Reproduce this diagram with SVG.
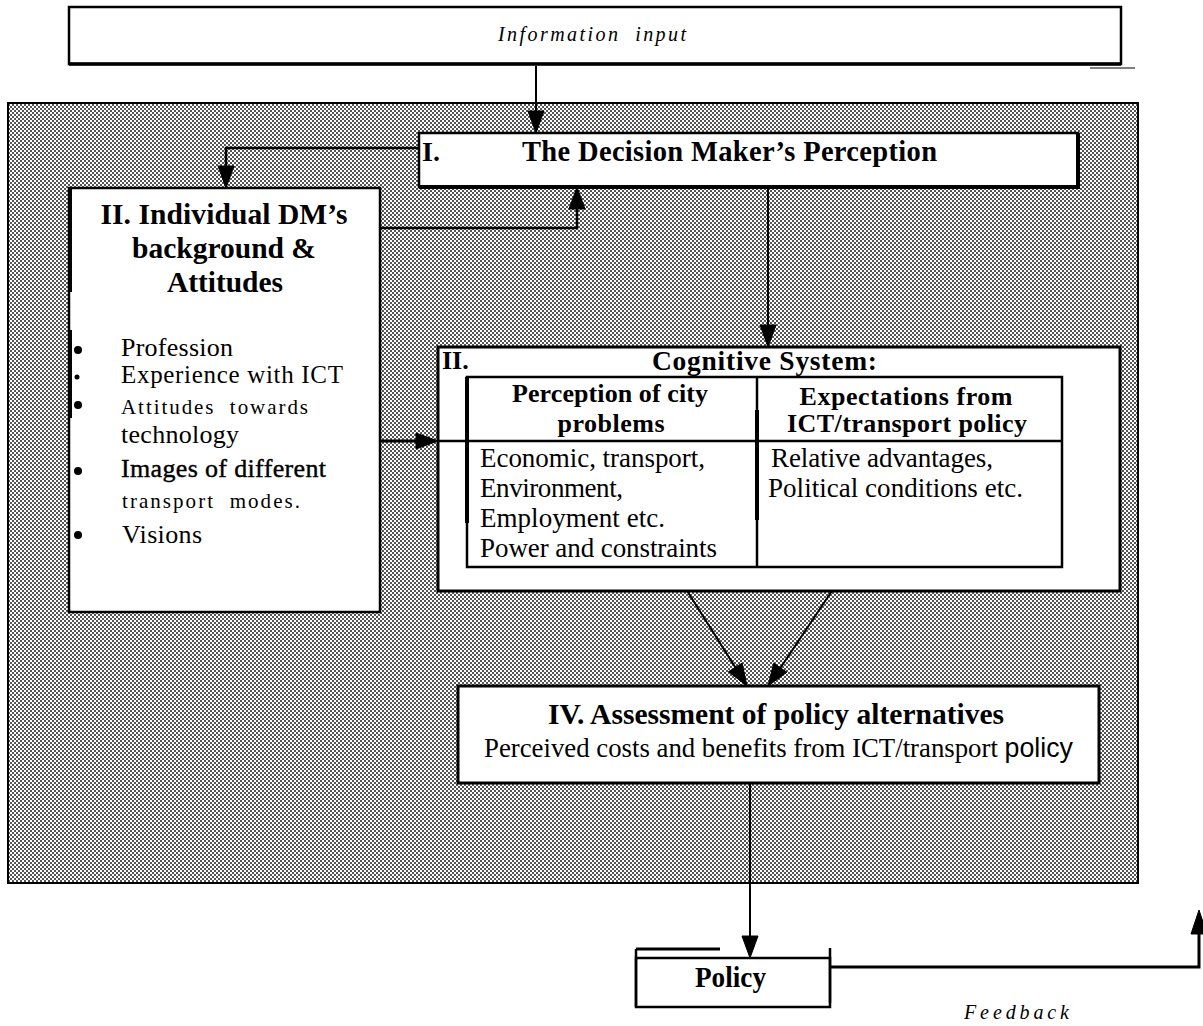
<svg xmlns="http://www.w3.org/2000/svg" width="1203" height="1026" viewBox="0 0 1203 1026">
<style>
  text { font-family: "Liberation Serif", "Times New Roman", serif; fill: #000; }
  .b { font-weight: bold; }
  .it { font-style: italic; }
  .box { fill: #fff; stroke: #000; }
  .con { fill: none; stroke: #000; }
  .head { fill: #000; stroke: #000; stroke-width: 1; stroke-linejoin: miter; }
</style>
<defs>
  <pattern id="dots" width="4" height="4" patternUnits="userSpaceOnUse">
    <rect width="4" height="4" fill="#fff"/>
    <rect x="0" y="0" width="2" height="2" fill="#555"/>
    <rect x="2" y="2" width="2" height="2" fill="#555"/>
  </pattern>
</defs>

<rect width="1203" height="1026" fill="#fff"/>

<!-- shaded background -->
<g id="shade">
  <rect x="8" y="103" width="1130" height="780" fill="url(#dots)" stroke="#000" stroke-width="2"/>
</g>

<!-- Information input -->
<g id="info">
  <rect x="69" y="7" width="1052" height="57" fill="#fff" stroke="#000" stroke-width="2.5"/>
  <line x1="69" y1="64" x2="1121" y2="64" stroke="#000" stroke-width="3.5"/>
  <line x1="1090" y1="68" x2="1135" y2="68" stroke="#000" stroke-width="1"/>
  <text x="592" y="41" text-anchor="middle" class="it" font-size="20" textLength="188" xml:space="preserve">Information  input</text>
</g>

<!-- connectors -->
<g id="connectors">
  <line x1="536" y1="66" x2="536" y2="115" class="con" style="stroke-width:2"/>
  <polygon class="head" points="528,111 544,111 536,133"/>
  <polyline points="419,148 226,148 226,170" class="con" style="stroke-width:2.5"/>
  <polygon class="head" points="218,166 234,166 226,188"/>
  <polyline points="380,228 577,228 577,205" class="con" style="stroke-width:2.5"/>
  <polygon class="head" points="569,209 585,209 577,187"/>
  <line x1="768" y1="187" x2="768" y2="329" class="con" style="stroke-width:2"/>
  <polygon class="head" points="760,325 776,325 768,347"/>
  <line x1="380" y1="441" x2="420" y2="441" class="con" style="stroke-width:3"/>
  <polygon class="head" points="416,433 416,449 438,441"/>
  <line x1="672" y1="567" x2="737" y2="670" class="con" style="stroke-width:2"/>
  <polygon class="head" points="728.5,671.7 742.1,663.1 747,686"/>
  <line x1="848" y1="567" x2="779" y2="670" class="con" style="stroke-width:2"/>
  <polygon class="head" points="773.7,663.2 786.9,672.2 768,686"/>
  <line x1="750" y1="783" x2="750" y2="940" class="con" style="stroke-width:2"/>
  <polygon class="head" points="742,936 758,936 750,958"/>
  <polyline points="830,967 1199,967 1199,930" class="con" style="stroke-width:3"/>
  <polygon class="head" points="1191,934 1207,934 1199,910"/>
</g>

<!-- Box I -->
<g id="node-perception">
  <rect x="419" y="133" width="659" height="54" class="box" stroke-width="2.5"/>
  <path d="M419,187 H1078 V133" fill="none" stroke="#000" stroke-width="4"/>
  <text x="422" y="161" class="b" font-size="28">I.</text>
  <text x="522" y="161" class="b" font-size="28.5" textLength="415">The Decision Maker’s Perception</text>
</g>

<!-- Box II -->
<g id="node-background">
  <rect x="69" y="188" width="311" height="424" class="box" stroke-width="2.5"/>
  <line x1="70" y1="188" x2="70" y2="292" stroke="#000" stroke-width="4"/>
  <line x1="70" y1="330" x2="70" y2="418" stroke="#000" stroke-width="4"/>
  <text x="224" y="224" text-anchor="middle" class="b" font-size="29.5" textLength="247">II. Individual DM’s</text>
  <text x="224" y="258" text-anchor="middle" class="b" font-size="29.5">background &amp;</text>
  <text x="225" y="292" text-anchor="middle" class="b" font-size="29.5" textLength="116">Attitudes</text>
  <circle cx="78" cy="350" r="4"/>
  <circle cx="77" cy="377" r="2.5"/>
  <circle cx="78" cy="405" r="4"/>
  <circle cx="78" cy="471" r="4"/>
  <circle cx="78" cy="535" r="4"/>
  <text x="121" y="356" font-size="26" textLength="112">Profession</text>
  <text x="121" y="383" font-size="25" textLength="222">Experience with ICT</text>
  <text x="121" y="414" font-size="21" textLength="187" xml:space="preserve">Attitudes  towards</text>
  <text x="121" y="443" font-size="26" textLength="118">technology</text>
  <text x="121" y="477" font-size="26" textLength="205" stroke="#000" stroke-width="0.4">Images of different</text>
  <text x="122" y="508" font-size="21" textLength="178" xml:space="preserve">transport  modes.</text>
  <text x="122" y="543" font-size="26" textLength="80">Visions</text>
</g>

<!-- Cognitive System -->
<g id="node-cognitive">
  <rect x="438" y="347" width="682" height="244" class="box" stroke-width="3"/>
  <text x="442" y="369" class="b" font-size="26">II.</text>
  <text x="652" y="370" class="b" font-size="27.5" textLength="225">Cognitive System:</text>
  <rect x="467" y="377" width="595" height="190" fill="none" stroke="#000" stroke-width="2.5"/>
  <line x1="467" y1="377" x2="467" y2="523" stroke="#000" stroke-width="4"/>
  <line x1="757" y1="377" x2="757" y2="567" stroke="#000" stroke-width="2.5"/>
  <line x1="757" y1="410" x2="757" y2="520" stroke="#000" stroke-width="4"/>
  <line x1="438" y1="441" x2="1063" y2="441" stroke="#000" stroke-width="2.5"/>
  <text x="610" y="402" text-anchor="middle" class="b" font-size="26" textLength="196">Perception of city</text>
  <text x="611" y="432" text-anchor="middle" class="b" font-size="26" textLength="107">problems</text>
  <text x="906" y="405" text-anchor="middle" class="b" font-size="26" textLength="213">Expectations from</text>
  <text x="907" y="432" text-anchor="middle" class="b" font-size="26" textLength="240">ICT/transport policy</text>
  <text x="480" y="467" font-size="27" textLength="225">Economic, transport,</text>
  <text x="480" y="497" font-size="27" textLength="143">Environment,</text>
  <text x="480" y="527" font-size="27" textLength="185">Employment etc.</text>
  <text x="480" y="557" font-size="27" textLength="237">Power and constraints</text>
  <text x="771" y="467" font-size="27" textLength="222">Relative advantages,</text>
  <text x="768" y="497" font-size="27" textLength="255">Political conditions etc.</text>
</g>

<!-- Box IV -->
<g id="node-assessment">
  <rect x="458" y="686" width="641" height="97" class="box" stroke-width="3"/>
  <text x="548" y="724" class="b" font-size="29" textLength="456" lengthAdjust="spacingAndGlyphs">IV. Assessment of policy alternatives</text>
  <text x="484" y="757" font-size="27" textLength="589" lengthAdjust="spacingAndGlyphs">Perceived costs and benefits from ICT/transport <tspan font-family="Liberation Sans, Arial, sans-serif">policy</tspan></text>
</g>

<!-- Policy -->
<g id="node-policy">
  <rect x="636" y="958" width="194" height="49" class="box" stroke-width="2.5"/>
  <line x1="636" y1="949" x2="720" y2="949" stroke="#000" stroke-width="3"/>
  <line x1="636" y1="949" x2="636" y2="1007" stroke="#000" stroke-width="2.5"/>
  <line x1="830" y1="948" x2="830" y2="1003" stroke="#000" stroke-width="2.5"/>
  <text x="695" y="987" class="b" font-size="29" textLength="71" lengthAdjust="spacingAndGlyphs">Policy</text>
</g>

<!-- Feedback label -->
<g id="label-feedback">
  <text x="964" y="1019" class="it" font-size="20" textLength="105">Feedback</text>
</g>
</svg>
